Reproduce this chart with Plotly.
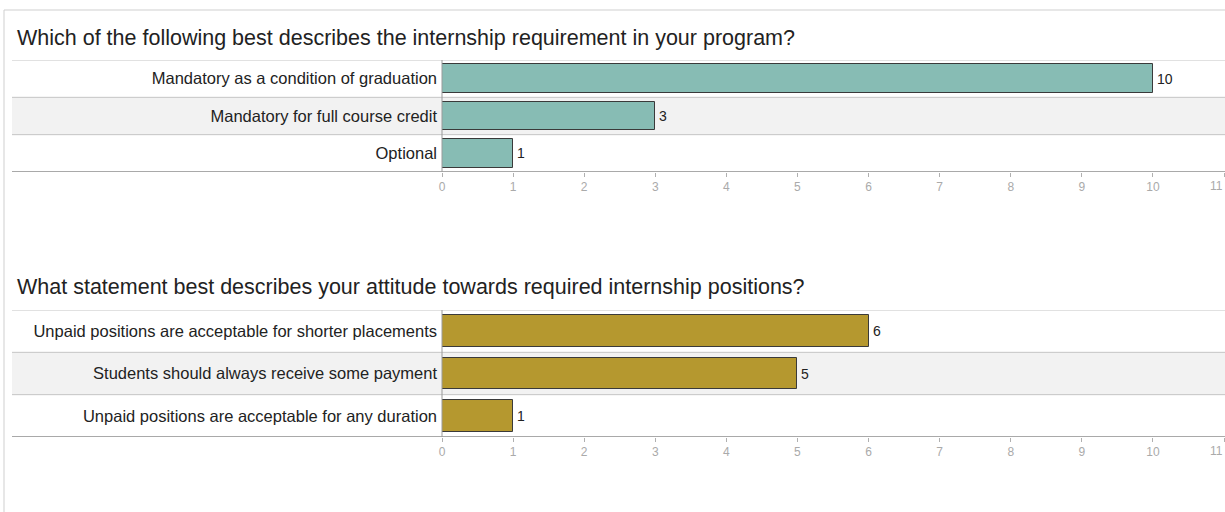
import plotly.graph_objects as go
from plotly.subplots import make_subplots

# Survey responses
q1_title = "Which of the following best describes the internship requirement in your program?"
q1_labels = [
    "Mandatory as a condition of graduation",
    "Mandatory for full course credit",
    "Optional",
]
q1_counts = [10, 3, 1]

q2_title = "What statement best describes your attitude towards required internship positions?"
q2_labels = [
    "Unpaid positions are acceptable for shorter placements",
    "Students should always receive some payment",
    "Unpaid positions are acceptable for any duration",
]
q2_counts = [6, 5, 1]

x_ticks = list(range(0, 12))

W, H = 1225, 512
FONT = "Liberation Sans, Arial, sans-serif"
TICK_FONT = dict(family=FONT, size=12, color="#aaaaaa")


def py(px):
    """Pixel row (from top) to paper fraction."""
    return 1 - px / H


fig = make_subplots(rows=2, cols=1)

panels = [
    dict(labels=q1_labels, counts=q1_counts, color="#87bcb4", top=60, bottom=172,
         width=0.765, title=q1_title, title_y=38),
    dict(labels=q2_labels, counts=q2_counts, color="#b5982f", top=310, bottom=437,
         width=0.75, title=q2_title, title_y=287),
]

x0_frac = 442 / W
x1_frac = 1224 / W
band_left = 12 / W

shapes = []
annotations = []
for i, p in enumerate(panels, start=1):
    n = len(p["labels"])
    ys = list(range(n))
    xa = "xaxis" if i == 1 else f"xaxis{i}"
    ya = "yaxis" if i == 1 else f"yaxis{i}"
    xref = "x" if i == 1 else f"x{i}"
    yref = "y" if i == 1 else f"y{i}"

    fig.add_trace(
        go.Bar(
            x=p["counts"], y=ys, orientation="h", width=p["width"],
            marker=dict(color=p["color"], line=dict(color="#3a3a3a", width=1)),
            hoverinfo="skip", showlegend=False,
        ),
        row=i, col=1,
    )
    # value labels just past each bar end
    for yv, v in zip(ys, p["counts"]):
        annotations.append(dict(text=str(v), xref=xref, yref=yref, x=v, y=yv,
                                xanchor="left", yanchor="middle", xshift=2,
                                showarrow=False,
                                font=dict(family=FONT, size=14, color="#222")))

    last_tick = x_ticks[-1]
    fig.layout[xa].update(
        domain=[x0_frac, x1_frac], range=[0, 11], tickvals=x_ticks,
        ticktext=[str(t) if t != last_tick else "" for t in x_ticks],
        showgrid=False, zeroline=False, showline=False,
        ticks="outside", ticklen=4, tickcolor="#b0b0b0",
        tickfont=TICK_FONT, automargin=False, fixedrange=True,
    )
    fig.layout[ya].update(
        domain=[py(p["bottom"]), py(p["top"])], range=[n - 0.5, -0.5],
        tickvals=ys, ticktext=p["labels"], ticks="",
        showgrid=False, zeroline=False, showline=False,
        tickfont=dict(family=FONT, size=16.5, color="#222"),
        ticklabelstandoff=4, automargin=False, fixedrange=True,
    )
    # the last tick label is pulled inward so it stays on the page
    annotations.append(dict(text=str(last_tick), xref=xref, yref="paper",
                            x=last_tick, y=py(p["bottom"] + 14), xanchor="right",
                            yanchor="middle", xshift=1, showarrow=False,
                            font=TICK_FONT))
    # alternating row bands and separators
    for k in range(n):
        if k % 2 == 1:
            shapes.append(dict(type="rect", xref="paper", yref=yref,
                               x0=band_left, x1=1, y0=k - 0.5, y1=k + 0.5,
                               fillcolor="#f2f2f2", line_width=0, layer="below"))
    for k in range(n + 1):
        last = k == n
        shapes.append(dict(type="line", xref="paper", yref=yref,
                           x0=band_left, x1=1, y0=k - 0.5, y1=k - 0.5,
                           line=dict(color="#a9a9a9" if last else "#c4c4c4",
                                     width=2 if last else 1),
                           layer="below"))
    # axis line at zero
    shapes.append(dict(type="line", xref="paper", yref=yref,
                       x0=x0_frac, x1=x0_frac, y0=-0.5, y1=n - 0.5,
                       line=dict(color="#9a9a9a", width=1), layer="above"))
    annotations.append(dict(text=p["title"], xref="paper", yref="paper",
                            x=15 / W, y=py(p["title_y"]), xanchor="left", yanchor="middle",
                            showarrow=False,
                            font=dict(family=FONT, size=21.5, color="#222")))

# outer frame
shapes.append(dict(type="rect", xref="paper", yref="paper",
                   x0=4 / W, x1=1.01, y0=-0.02, y1=py(10),
                   line=dict(color="#cfcfcf", width=1), fillcolor="rgba(0,0,0,0)",
                   layer="below"))

fig.update_layout(
    width=W, height=H,
    margin=dict(l=0, r=0, t=0, b=0),
    paper_bgcolor="white", plot_bgcolor="rgba(0,0,0,0)",
    shapes=shapes, annotations=annotations,
    bargap=0, showlegend=False,
)

fig.write_html("out.html", config={"displayModeBar": False})
